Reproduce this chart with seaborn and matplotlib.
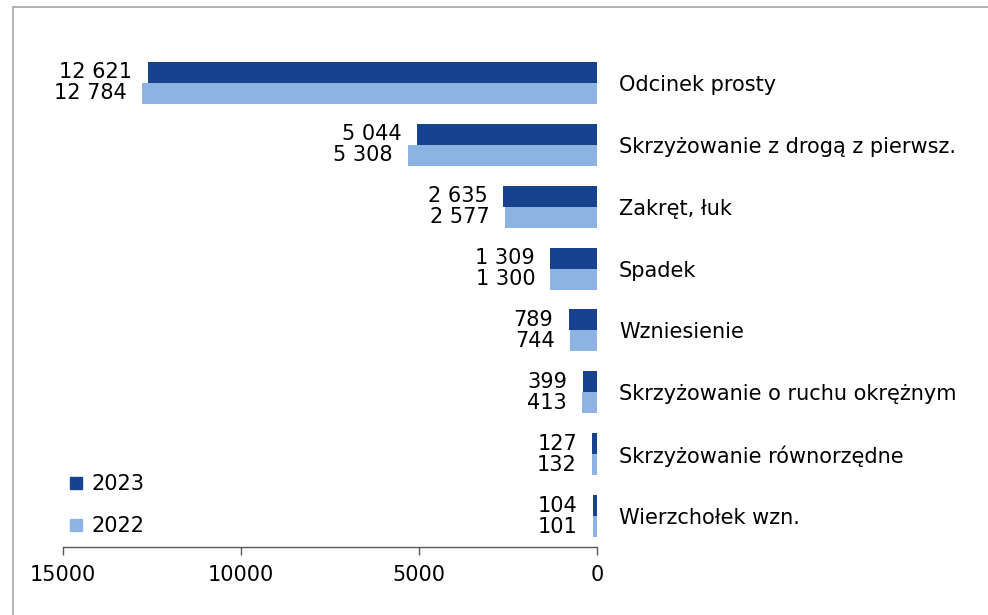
import matplotlib
matplotlib.use("Agg")
import matplotlib.pyplot as plt
from matplotlib.lines import Line2D
import seaborn as sns
import pandas as pd

# data
categories = ["Odcinek prosty", "Skrzyżowanie z drogą z pierwsz.", "Zakręt, łuk", "Spadek",
              "Wzniesienie", "Skrzyżowanie o ruchu okrężnym", "Skrzyżowanie równorzędne",
              "Wierzchołek wzn."]
vals_2023 = [12621, 5044, 2635, 1309, 789, 399, 127, 104]
vals_2022 = [12784, 5308, 2577, 1300, 744, 413, 132, 101]
years = ["2023", "2022"]
xticks = [15000, 10000, 5000, 0]

df = pd.DataFrame({
    "kategoria": categories * 2,
    "rok": [years[0]] * len(categories) + [years[1]] * len(categories),
    "wartosc": vals_2023 + vals_2022,
})

sns.set_theme(style="white")
plt.rcParams["font.family"] = ["DejaVu Sans"]
plt.rcParams["text.color"] = "black"
colors = {"2023": "#17438E", "2022": "#8DB3E2"}
fs = 15

fig = plt.figure(figsize=(9.88, 6.15), dpi=100)
ax = fig.add_axes([0.0638, 0.1106, 0.604 - 0.0638, 0.9154 - 0.1106])

sns.barplot(data=df, y="kategoria", x="wartosc", hue="rok", hue_order=years,
            order=categories, palette=colors, orient="h", width=0.68,
            ax=ax, legend=False, saturation=1, linewidth=0)

ax.set_xlim(15000, 0)
ax.set_xticks(xticks)
ax.set_xticklabels([str(t) for t in xticks], fontsize=fs, color="black")
ax.tick_params(axis="x", direction="out", length=6, width=1, color="#595959", pad=7, bottom=True)

ax.yaxis.tick_right()
ax.tick_params(axis="y", length=0, pad=16, labelsize=fs, labelcolor="black")
ax.set_xlabel("")
ax.set_ylabel("")

for s in ["top", "left", "right"]:
    ax.spines[s].set_visible(False)
ax.spines["bottom"].set_color("#595959")
ax.spines["bottom"].set_linewidth(1)

def fmt(v):
    return f"{v:,}".replace(",", " ")

for cont, vals in zip(ax.containers, [vals_2023, vals_2022]):
    ax.bar_label(cont, labels=[fmt(v) for v in vals], padding=11, fontsize=fs, color="black")

handles = [Line2D([], [], marker="s", linestyle="", markersize=8,
                  markerfacecolor=colors[y], markeredgecolor=colors[y]) for y in years]
ax.legend(handles, years, loc="lower left", bbox_to_anchor=(-0.022, -0.008), frameon=False,
          fontsize=fs, labelspacing=1.05, handletextpad=0.25, handlelength=1.0,
          borderaxespad=0.3, labelcolor="black")

# thin gray frame (top and left edge) as in the source image
fig.add_artist(Line2D([13 / 988, 13 / 988], [0, 1 - 7 / 615], transform=fig.transFigure,
                      color="#A6A6A6", linewidth=1.2))
fig.add_artist(Line2D([13 / 988, 1], [1 - 7 / 615, 1 - 7 / 615], transform=fig.transFigure,
                      color="#A6A6A6", linewidth=1.2))

fig.savefig("out.png", dpi=100, facecolor="white")
